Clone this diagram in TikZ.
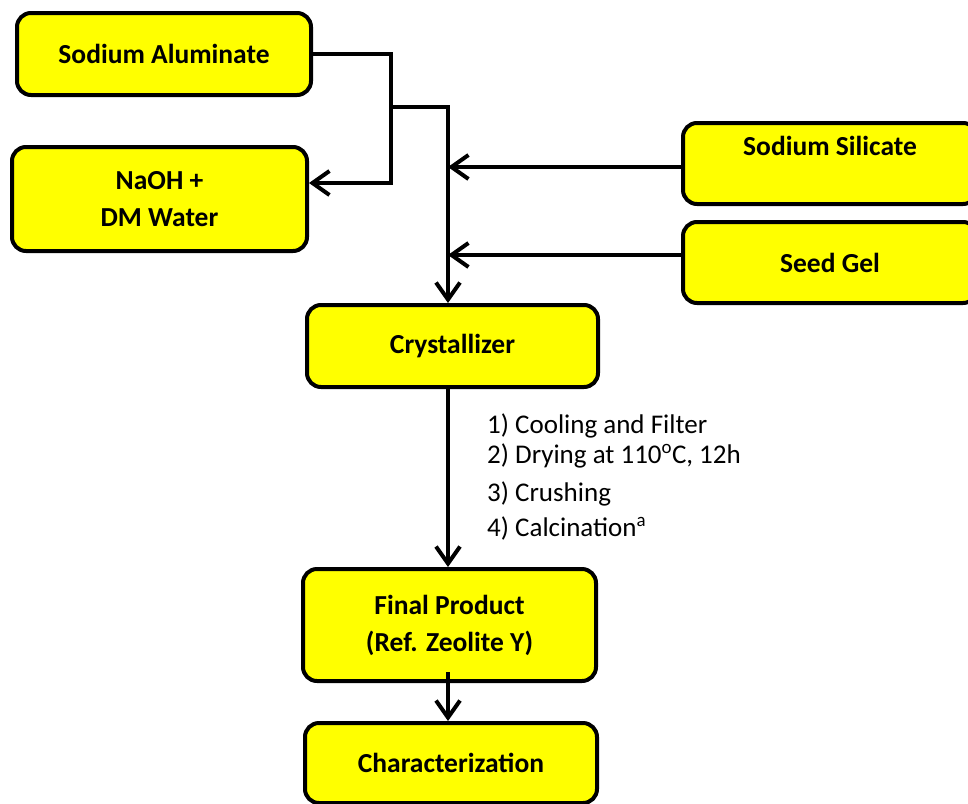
\documentclass[tikz,border=0pt]{standalone}
\usepackage{fontspec}
\setmainfont{Carlito}
\usetikzlibrary{arrows.meta}
\definecolor{boxyellow}{RGB}{255,255,0}
\begin{document}
\begin{tikzpicture}[x=1pt,y=-1pt,
  box/.style={draw=black, line width=4pt, fill=boxyellow, rounded corners=14pt,
    font=\fontsize{27.5}{37}\selectfont\bfseries, align=center, inner sep=0pt},
  conn/.style={line width=4pt, line join=miter},
  arr/.style={conn, -{Straight Barb[length=17pt,width=24pt,line width=4pt]}},
  steplist/.style={font=\fontsize{27}{30}\selectfont, align=left, inner sep=0pt}]
\useasboundingbox (0,0) rectangle (968,803);
\clip (0,0) rectangle (968,803);
% boxes
\node[box, minimum width=294pt, minimum height=82pt] (sa) at (164,54) {Sodium Aluminate};
\node[box, minimum width=295pt, minimum height=104pt] (nw) at (159.5,199) {NaOH +\\DM Water};
\node[box, minimum width=294pt, text height=32pt, text depth=49pt] (ss) at (830,163.5) {Sodium Silicate};
\node[box, minimum width=294pt, minimum height=81pt] (sg) at (830,262.5) {Seed Gel};
\node[box, minimum width=291pt, minimum height=82pt] (cr) at (452.5,346) {Crystallizer};
\node[box, minimum width=293pt, minimum height=112pt] (fp) at (449.5,625) {Final Product\\(Ref. Zeolite Y)};
\node[box, minimum width=292pt, minimum height=80pt] (ch) at (451,763) {Characterization};
% junction points
\coordinate (j1) at (391,54);
\coordinate (j2) at (391,183);
\coordinate (j3) at (391,107);
\coordinate (j4) at (448,107);
\coordinate (a1) at (448,167);
\coordinate (a2) at (448,255);
% connectors
\draw[arr] (sa.east) -- (j1) -- (j2) -- (nw.east |- j2);
\draw[arr] (j3) -- (j4) -- (j4 |- cr.north);
\draw[arr] (ss.west |- a1) -- (a1);
\draw[arr] (sg.west |- a2) -- (a2);
\draw[arr] (cr.south -| j4) -- (fp.north -| j4);
\draw[arr] ([yshift=11pt]fp.south -| j4) -- (ch.north -| j4);
% step list
\node[steplist, anchor=base west] (steps) at (487,536)
  {1) Cooling and Filter\\2) Drying at 110\textsuperscript{o}C, 12h\\[8pt]3) Crushing\\[5pt]4) Calcination\textsuperscript{a}};
\end{tikzpicture}
\end{document}
